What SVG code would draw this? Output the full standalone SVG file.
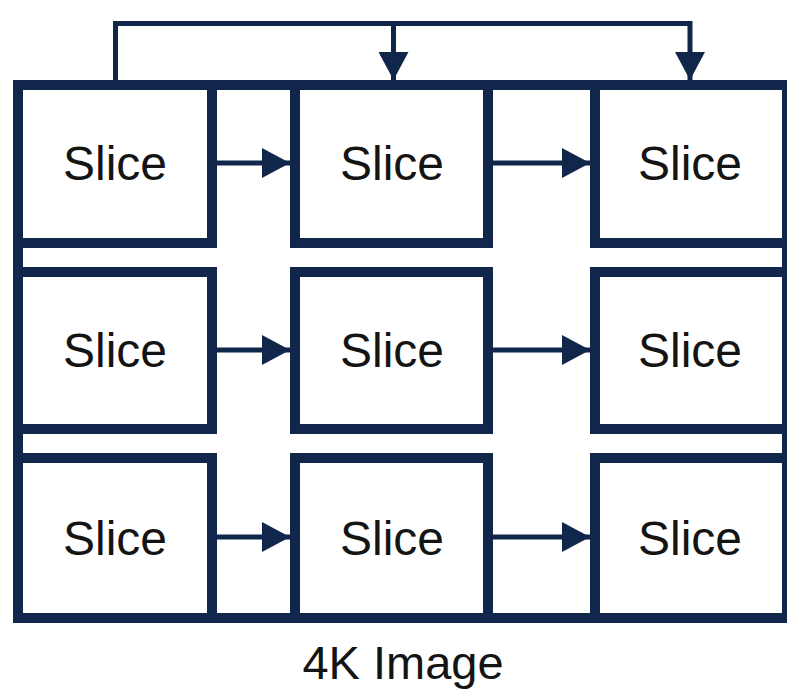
<svg xmlns="http://www.w3.org/2000/svg" width="787" height="689" viewBox="0 0 787 689">
  <style>
    .box { fill: #ffffff; stroke: #10264a; stroke-width: 10; }
    .frame { fill: none; stroke: #10264a; stroke-width: 10; }
    .lbl { font-family: "Liberation Sans", Arial, sans-serif; font-size: 48px; fill: #141414; text-anchor: middle; }
    .cap { font-family: "Liberation Sans", Arial, sans-serif; font-size: 47px; fill: #141414; text-anchor: middle; }
    .conn { fill: none; stroke: #10264a; stroke-width: 5; }
  </style>
  <defs>
    <marker id="arrow" markerUnits="userSpaceOnUse" markerWidth="30" markerHeight="30" viewBox="0 0 28 30" refX="28" refY="15" orient="auto">
      <path d="M0,0 L28,15 L0,30 Z" fill="#10264a"/>
    </marker>
  </defs>
  <rect width="787" height="689" fill="#ffffff"/>

  <g id="image-frame">
    <rect class="frame" x="18" y="85" width="769" height="533"/>
    <text class="cap" x="403" y="679">4K Image</text>
  </g>

  <g id="slice-r1c1"><rect class="box" x="18" y="85" width="194" height="158"/><text class="lbl" x="115" y="180">Slice</text></g>
  <g id="slice-r1c2"><rect class="box" x="295" y="85" width="193" height="158"/><text class="lbl" x="392" y="180">Slice</text></g>
  <g id="slice-r1c3"><rect class="box" x="595" y="85" width="192" height="158"/><text class="lbl" x="690" y="180">Slice</text></g>

  <g id="slice-r2c1"><rect class="box" x="18" y="272" width="194" height="157"/><text class="lbl" x="115" y="367">Slice</text></g>
  <g id="slice-r2c2"><rect class="box" x="295" y="272" width="193" height="157"/><text class="lbl" x="392" y="367">Slice</text></g>
  <g id="slice-r2c3"><rect class="box" x="595" y="272" width="192" height="157"/><text class="lbl" x="690" y="367">Slice</text></g>

  <g id="slice-r3c1"><rect class="box" x="18" y="458" width="194" height="160"/><text class="lbl" x="115" y="555">Slice</text></g>
  <g id="slice-r3c2"><rect class="box" x="295" y="458" width="193" height="160"/><text class="lbl" x="392" y="555">Slice</text></g>
  <g id="slice-r3c3"><rect class="box" x="595" y="458" width="192" height="160"/><text class="lbl" x="690" y="555">Slice</text></g>

  <g id="connectors">
    <line class="conn" x1="217" y1="163" x2="290" y2="163" marker-end="url(#arrow)"/>
    <line class="conn" x1="493" y1="163" x2="590" y2="163" marker-end="url(#arrow)"/>
    <line class="conn" x1="217" y1="350" x2="290" y2="350" marker-end="url(#arrow)"/>
    <line class="conn" x1="493" y1="350" x2="590" y2="350" marker-end="url(#arrow)"/>
    <line class="conn" x1="217" y1="537" x2="290" y2="537" marker-end="url(#arrow)"/>
    <line class="conn" x1="493" y1="537" x2="590" y2="537" marker-end="url(#arrow)"/>
    <polyline class="conn" points="115.5,80 115.5,23.5 690,23.5 690,80" marker-end="url(#arrow)"/>
    <line class="conn" x1="393.5" y1="23.5" x2="393.5" y2="80" marker-end="url(#arrow)"/>
  </g>
</svg>
